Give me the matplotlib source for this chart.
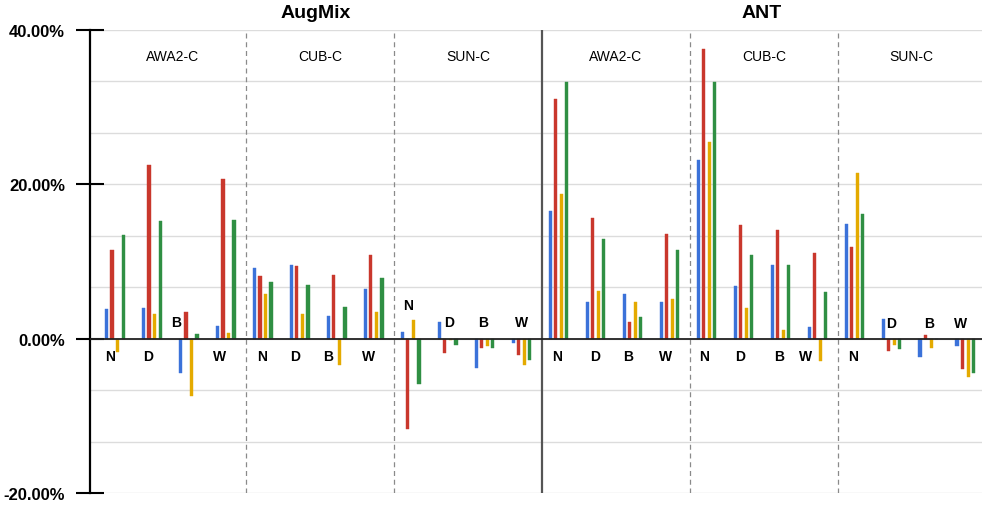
import numpy as np
import matplotlib.pyplot as plt
from matplotlib.ticker import FuncFormatter

plt.rcParams['font.family'] = ['Liberation Sans', 'DejaVu Sans']

# relative gain (%) per method / dataset / corruption group, four series each
methods = ["AugMix", "ANT"]
datasets = ["AWA2-C", "CUB-C", "SUN-C"]
groups = ["N", "D", "B", "W"]
series_colors = ["#3b72d9", "#c9372c", "#e4aa00", "#2f8f43"]

# [panel][group] -> blue, red, yellow, green
augmix_awa2 = [[3.8, 11.5, -1.7, 13.4], [4.0, 22.5, 3.2, 15.3],
               [-4.5, 3.4, -7.4, 0.6], [1.7, 20.7, 0.7, 15.4]]
augmix_cub = [[9.1, 8.1, 5.8, 7.3], [9.6, 9.4, 3.2, 7.0],
              [3.0, 8.3, -3.4, 4.1], [6.4, 10.9, 3.4, 7.9]]
augmix_sun = [[0.9, -11.7, 2.4, -5.9], [2.2, -1.9, -0.2, -0.8],
              [-3.8, -1.2, -1.0, -1.2], [-0.5, -2.1, -3.4, -2.7]]
ant_awa2 = [[16.6, 31.0, 18.7, 33.2], [4.7, 15.7, 6.2, 12.9],
            [5.8, 2.2, 4.7, 2.8], [4.7, 13.6, 5.1, 11.5]]
ant_cub = [[23.2, 37.5, 25.5, 33.2], [6.8, 14.7, 4.0, 10.8],
           [9.6, 14.1, 1.1, 9.6], [1.5, 11.1, -2.9, 6.0]]
ant_sun = [[14.9, 11.9, 21.5, 16.2], [2.6, -1.6, -0.8, -1.4],
           [-2.4, 0.5, -1.2, -0.1], [-1.0, -3.9, -5.0, -4.4]]
panels = [augmix_awa2, augmix_cub, augmix_sun, ant_awa2, ant_cub, ant_sun]

# where each group letter sits: (x offset inside panel, y in %)
label_pos = [
    [(0.32, -2.2), (1.34, -2.2), (2.11, 2.1), (3.27, -2.2)],
    [(0.42, -2.2), (1.34, -2.2), (2.22, -2.2), (3.32, -2.2)],
    [(0.39, 4.3), (1.49, 2.1), (2.40, 2.1), (3.45, 2.1)],
    [(0.40, -2.2), (1.43, -2.2), (2.33, -2.2), (3.34, -2.2)],
    [(0.38, -2.2), (1.37, -2.2), (2.41, -2.2), (3.14, -2.2)],
    [(0.41, -2.2), (1.45, 2.0), (2.47, 2.0), (3.31, 2.0)],
]

fig = plt.figure(figsize=(9.82, 5.06), dpi=100)
ax = fig.add_axes([90 / 982, 12 / 506, 892 / 982, 463 / 506])

ymin, ymax = -20, 40
ax.set_ylim(ymin, ymax)
ax.set_xlim(-0.22, 23.9)

# light grid every 60/9 %
for y in np.linspace(ymin, ymax, 10):
    ax.axhline(y, color="#dcdcdc", lw=1.0, zorder=0)
ax.axhline(0, color="#222222", lw=1.3, zorder=3)

bar_w = 0.085
step = 0.15
for p, panel in enumerate(panels):
    for g, vals in enumerate(panel):
        center = p * 4 + g + 0.45
        xs = center + (np.arange(4) - 1.5) * step
        ax.bar(xs, vals, width=bar_w, color=series_colors, zorder=2,
               edgecolor=series_colors, linewidth=0.3)
        lx, ly = label_pos[p][g]
        ax.text(p * 4 + lx, ly, groups[g], ha="center", va="center",
                fontsize=10, fontweight="bold", zorder=4)
    ax.text(p * 4 + 2, 36.6, datasets[p % 3], ha="center", va="center",
            fontsize=10)

# panel dividers
for b in [4, 8, 16, 20]:
    ax.axvline(b, color="#8a8a8a", lw=0.9, ls=(0, (4, 3)), zorder=1)
ax.axvline(12, color="#555555", lw=1.6, zorder=1)

# method titles
for m, name in enumerate(methods):
    xc = (-0.22 + 12) / 2 if m == 0 else (12 + 23.9) / 2
    ax.text(xc, 41.2, name, ha="center", va="bottom", fontsize=14,
            fontweight="bold", clip_on=False)

for s in ["top", "right", "bottom"]:
    ax.spines[s].set_visible(False)
ax.spines["left"].set_linewidth(1.6)
ax.set_xticks([])
ax.set_yticks([-20, 0, 20, 40])
ax.yaxis.set_major_formatter(FuncFormatter(lambda v, _: f"{v:.2f}%"))
ax.tick_params(axis="y", direction="inout", length=20, width=1.5, pad=8,
               labelsize=12)
for t in ax.get_yticklabels():
    t.set_fontweight("bold")

fig.savefig("out.png", dpi=100)
